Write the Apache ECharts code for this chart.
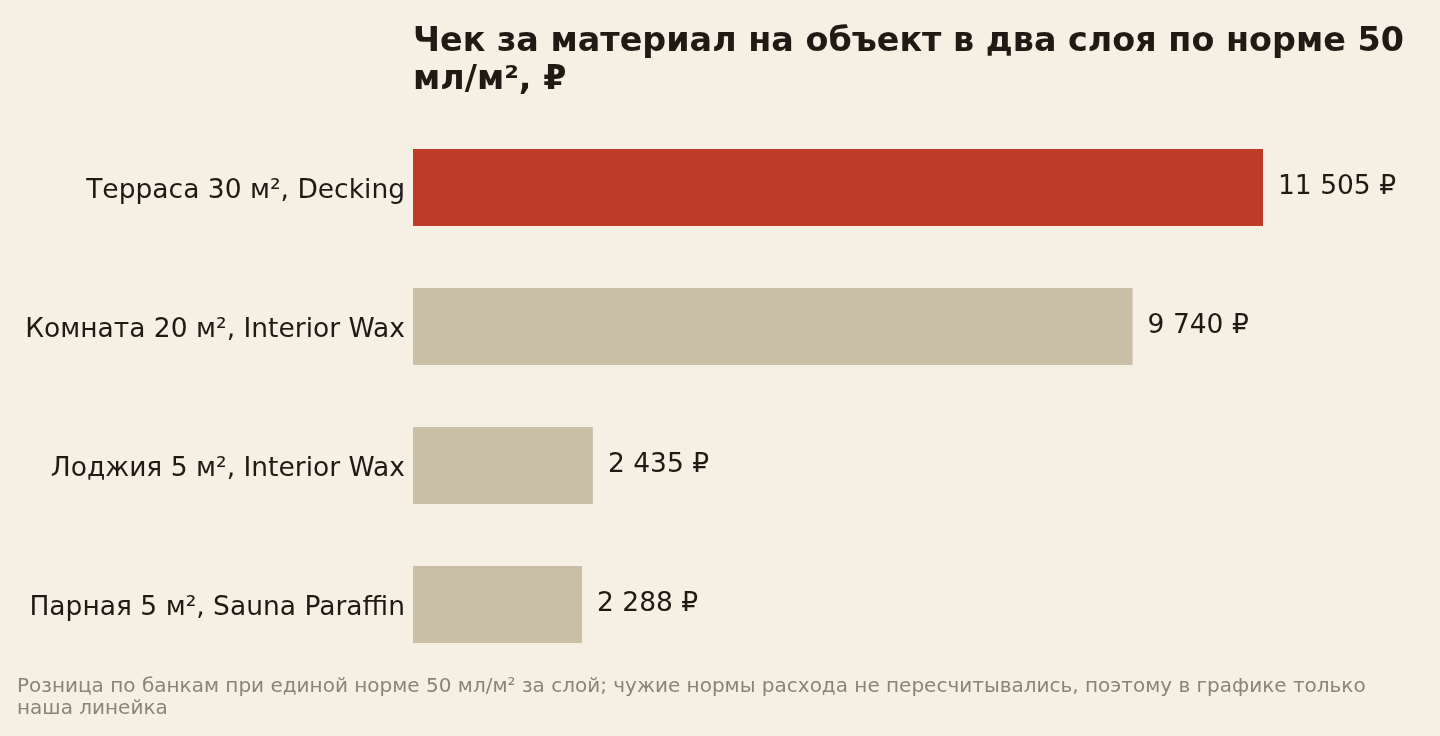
<!DOCTYPE html>
<html><head><meta charset="utf-8">
<script src="https://cdn.jsdelivr.net/npm/echarts@6/dist/echarts.min.js"></script>
<style>html,body{margin:0;padding:0;background:#f6f0e4;}#c{width:1440px;height:736px;}</style>
</head><body><div id="c"></div>
<script>
const categories = ['Терраса 30 м², Decking','Комната 20 м², Interior Wax','Лоджия 5 м², Interior Wax','Парная 5 м², Sauna Paraffin'];
const values = [11505, 9740, 2435, 2288];
const highlight = [true, false, false, false];
const titleText = 'Чек за материал на объект в два слоя по норме 50\nмл/м², ₽';
const noteText = 'Розница по банкам при единой норме 50 мл/м² за слой; чужие нормы расхода не пересчитывались, поэтому в графике только\nнаша линейка';

const fmt = v => String(v).replace(/\B(?=(\d{3})+(?!\d))/g, ' ') + ' ₽';
const chart = echarts.init(document.getElementById('c'));
chart.setOption({
  backgroundColor: '#f6f0e4',
  animation: false,
  title: [{
    text: titleText, left: 408, top: 18,
    textStyle: {fontFamily: 'DejaVu Sans', fontSize: 33.4, fontWeight: 'bold', color: '#1f1a14', lineHeight: 38}
  },{
    text: noteText, left: 12, top: 671,
    textStyle: {fontFamily: 'DejaVu Sans', fontSize: 20, fontWeight: 'normal', color: '#8a8478', lineHeight: 22}
  }],
  grid: {left: 413, right: 177, top: 118, bottom: 62},
  xAxis: {type: 'value', min: 0, max: 11505, show: false},
  yAxis: {
    type: 'category', data: categories, inverse: true,
    axisLine: {show: false}, axisTick: {show: false},
    axisLabel: {margin: 8, formatter: v => '{a|' + v + '}',
      rich: {a: {fontFamily: 'DejaVu Sans', fontSize: 26.5, color: '#1f1a14', padding: [8, 0, 0, 0]}}}
  },
  series: [{
    type: 'bar', barWidth: 77,
    data: values.map((v, i) => ({value: v, itemStyle: {color: highlight[i] ? '#bc3c27' : '#c9bfa7'}})),
    label: {show: true, position: 'right', distance: 15, formatter: p => fmt(p.value),
      fontFamily: 'DejaVu Sans', fontSize: 26.5, color: '#1f1a14'}
  }]
});
</script></body></html>
